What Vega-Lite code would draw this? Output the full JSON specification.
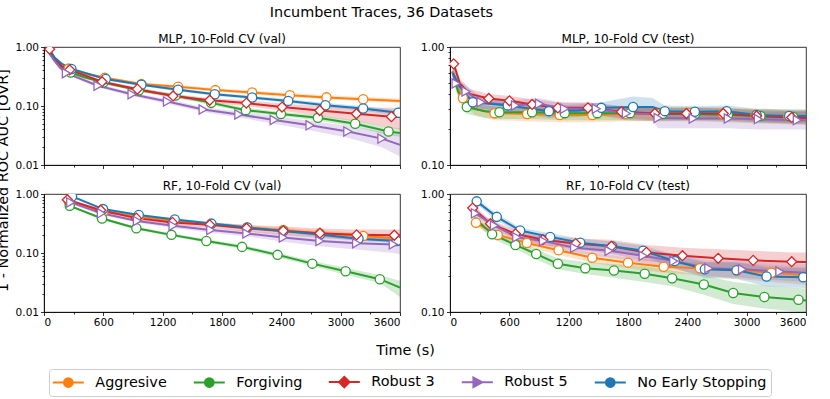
{
  "$schema": "https://vega.github.io/schema/vega-lite/v6.json",
  "background": "white",
  "padding": {"left": -5, "top": 5, "right": 5, "bottom": 5},
  "title": {"text": "Incumbent Traces, 36 Datasets", "fontSize": 14.4, "fontWeight": "normal", "anchor": "middle", "dx": -19.5, "offset": 12, "frame": "bounds"},
  "config": {
    "font": "DejaVu Sans",
    "view": {"stroke": "black", "strokeWidth": 0.8},
    "title": {"fontSize": 12, "fontWeight": "normal", "offset": -4, "color": "black"},
    "axis": {"labelFontSize": 10.5, "labelColor": "black", "domainColor": "black", "tickColor": "black", "titleColor": "black", "titleFontWeight": "normal", "grid": false, "labelPadding": 2, "domainWidth": 0.8, "tickWidth": 0.8}
  },
  "datasets": {
    "d": [
      {"p":"MV","s":"Aggresive","t":40,"y":0.88,"lo":0.84,"hi":0.92,"m":0},
      {"p":"MV","s":"Aggresive","t":100,"y":0.66,"lo":0.62,"hi":0.70,"m":0},
      {"p":"MV","s":"Aggresive","t":180,"y":0.50,"lo":0.47,"hi":0.53,"m":0},
      {"p":"MV","s":"Aggresive","t":250,"y":0.43,"lo":0.41,"hi":0.45,"m":1},
      {"p":"MV","s":"Aggresive","t":400,"y":0.36,"lo":0.34,"hi":0.38,"m":0},
      {"p":"MV","s":"Aggresive","t":614,"y":0.30,"lo":0.285,"hi":0.315,"m":1},
      {"p":"MV","s":"Aggresive","t":985,"y":0.235,"lo":0.22,"hi":0.25,"m":1},
      {"p":"MV","s":"Aggresive","t":1356,"y":0.212,"lo":0.198,"hi":0.226,"m":1},
      {"p":"MV","s":"Aggresive","t":1733,"y":0.186,"lo":0.174,"hi":0.2,"m":1},
      {"p":"MV","s":"Aggresive","t":2105,"y":0.169,"lo":0.157,"hi":0.182,"m":1},
      {"p":"MV","s":"Aggresive","t":2486,"y":0.152,"lo":0.141,"hi":0.164,"m":1},
      {"p":"MV","s":"Aggresive","t":2857,"y":0.14,"lo":0.13,"hi":0.152,"m":1},
      {"p":"MV","s":"Aggresive","t":3228,"y":0.13,"lo":0.12,"hi":0.142,"m":1},
      {"p":"MV","s":"Aggresive","t":3600,"y":0.122,"lo":0.112,"hi":0.134,"m":0},
      {"p":"MV","s":"Forgiving","t":40,"y":0.85,"lo":0.81,"hi":0.89,"m":0},
      {"p":"MV","s":"Forgiving","t":100,"y":0.62,"lo":0.58,"hi":0.66,"m":0},
      {"p":"MV","s":"Forgiving","t":180,"y":0.45,"lo":0.42,"hi":0.48,"m":0},
      {"p":"MV","s":"Forgiving","t":270,"y":0.37,"lo":0.35,"hi":0.39,"m":1},
      {"p":"MV","s":"Forgiving","t":400,"y":0.31,"lo":0.29,"hi":0.33,"m":0},
      {"p":"MV","s":"Forgiving","t":600,"y":0.25,"lo":0.235,"hi":0.265,"m":1},
      {"p":"MV","s":"Forgiving","t":960,"y":0.185,"lo":0.172,"hi":0.198,"m":1},
      {"p":"MV","s":"Forgiving","t":1330,"y":0.15,"lo":0.139,"hi":0.161,"m":1},
      {"p":"MV","s":"Forgiving","t":1690,"y":0.113,"lo":0.104,"hi":0.122,"m":1},
      {"p":"MV","s":"Forgiving","t":2041,"y":0.085,"lo":0.078,"hi":0.093,"m":1},
      {"p":"MV","s":"Forgiving","t":2396,"y":0.073,"lo":0.067,"hi":0.08,"m":1},
      {"p":"MV","s":"Forgiving","t":2770,"y":0.063,"lo":0.057,"hi":0.07,"m":1},
      {"p":"MV","s":"Forgiving","t":3147,"y":0.05,"lo":0.044,"hi":0.057,"m":1},
      {"p":"MV","s":"Forgiving","t":3484,"y":0.037,"lo":0.032,"hi":0.044,"m":1},
      {"p":"MV","s":"Forgiving","t":3600,"y":0.035,"lo":0.03,"hi":0.042,"m":0},
      {"p":"MV","s":"Robust 3","t":57,"y":0.92,"lo":0.88,"hi":0.96,"m":1},
      {"p":"MV","s":"Robust 3","t":120,"y":0.60,"lo":0.57,"hi":0.63,"m":0},
      {"p":"MV","s":"Robust 3","t":180,"y":0.47,"lo":0.445,"hi":0.495,"m":0},
      {"p":"MV","s":"Robust 3","t":260,"y":0.41,"lo":0.39,"hi":0.43,"m":1},
      {"p":"MV","s":"Robust 3","t":587,"y":0.258,"lo":0.243,"hi":0.274,"m":1},
      {"p":"MV","s":"Robust 3","t":944,"y":0.193,"lo":0.18,"hi":0.207,"m":1},
      {"p":"MV","s":"Robust 3","t":1305,"y":0.148,"lo":0.137,"hi":0.16,"m":1},
      {"p":"MV","s":"Robust 3","t":1676,"y":0.125,"lo":0.114,"hi":0.137,"m":1},
      {"p":"MV","s":"Robust 3","t":2046,"y":0.112,"lo":0.1,"hi":0.125,"m":1},
      {"p":"MV","s":"Robust 3","t":2407,"y":0.096,"lo":0.083,"hi":0.11,"m":1},
      {"p":"MV","s":"Robust 3","t":2788,"y":0.084,"lo":0.068,"hi":0.1,"m":1},
      {"p":"MV","s":"Robust 3","t":3159,"y":0.074,"lo":0.055,"hi":0.095,"m":1},
      {"p":"MV","s":"Robust 3","t":3513,"y":0.066,"lo":0.043,"hi":0.093,"m":1},
      {"p":"MV","s":"Robust 3","t":3600,"y":0.066,"lo":0.04,"hi":0.094,"m":0},
      {"p":"MV","s":"Robust 5","t":40,"y":0.85,"lo":0.81,"hi":0.89,"m":0},
      {"p":"MV","s":"Robust 5","t":100,"y":0.60,"lo":0.57,"hi":0.63,"m":0},
      {"p":"MV","s":"Robust 5","t":160,"y":0.45,"lo":0.43,"hi":0.47,"m":0},
      {"p":"MV","s":"Robust 5","t":226,"y":0.36,"lo":0.34,"hi":0.38,"m":1},
      {"p":"MV","s":"Robust 5","t":546,"y":0.22,"lo":0.205,"hi":0.235,"m":1},
      {"p":"MV","s":"Robust 5","t":890,"y":0.158,"lo":0.146,"hi":0.17,"m":1},
      {"p":"MV","s":"Robust 5","t":1248,"y":0.119,"lo":0.109,"hi":0.13,"m":1},
      {"p":"MV","s":"Robust 5","t":1609,"y":0.087,"lo":0.079,"hi":0.096,"m":1},
      {"p":"MV","s":"Robust 5","t":1970,"y":0.072,"lo":0.064,"hi":0.081,"m":1},
      {"p":"MV","s":"Robust 5","t":2327,"y":0.058,"lo":0.05,"hi":0.067,"m":1},
      {"p":"MV","s":"Robust 5","t":2690,"y":0.047,"lo":0.039,"hi":0.056,"m":1},
      {"p":"MV","s":"Robust 5","t":3072,"y":0.037,"lo":0.029,"hi":0.046,"m":1},
      {"p":"MV","s":"Robust 5","t":3417,"y":0.028,"lo":0.02,"hi":0.037,"m":1},
      {"p":"MV","s":"Robust 5","t":3600,"y":0.022,"lo":0.014,"hi":0.033,"m":0},
      {"p":"MV","s":"No Early Stopping","t":40,"y":0.90,"lo":0.86,"hi":0.94,"m":0},
      {"p":"MV","s":"No Early Stopping","t":100,"y":0.68,"lo":0.64,"hi":0.72,"m":0},
      {"p":"MV","s":"No Early Stopping","t":180,"y":0.52,"lo":0.49,"hi":0.55,"m":0},
      {"p":"MV","s":"No Early Stopping","t":277,"y":0.425,"lo":0.405,"hi":0.445,"m":1},
      {"p":"MV","s":"No Early Stopping","t":624,"y":0.286,"lo":0.272,"hi":0.3,"m":1},
      {"p":"MV","s":"No Early Stopping","t":985,"y":0.229,"lo":0.217,"hi":0.241,"m":1},
      {"p":"MV","s":"No Early Stopping","t":1356,"y":0.188,"lo":0.177,"hi":0.199,"m":1},
      {"p":"MV","s":"No Early Stopping","t":1727,"y":0.158,"lo":0.148,"hi":0.168,"m":1},
      {"p":"MV","s":"No Early Stopping","t":2105,"y":0.139,"lo":0.13,"hi":0.149,"m":1},
      {"p":"MV","s":"No Early Stopping","t":2470,"y":0.122,"lo":0.113,"hi":0.131,"m":1},
      {"p":"MV","s":"No Early Stopping","t":2846,"y":0.103,"lo":0.095,"hi":0.112,"m":1},
      {"p":"MV","s":"No Early Stopping","t":3227,"y":0.091,"lo":0.083,"hi":0.1,"m":1},
      {"p":"MV","s":"No Early Stopping","t":3583,"y":0.077,"lo":0.07,"hi":0.085,"m":1},
      {"p":"MV","s":"No Early Stopping","t":3600,"y":0.077,"lo":0.07,"hi":0.085,"m":0},

      {"p":"MT","s":"Aggresive","t":30,"y":0.62,"lo":0.55,"hi":0.7,"m":0},
      {"p":"MT","s":"Aggresive","t":80,"y":0.45,"lo":0.4,"hi":0.5,"m":0},
      {"p":"MT","s":"Aggresive","t":130,"y":0.37,"lo":0.33,"hi":0.41,"m":1},
      {"p":"MT","s":"Aggresive","t":250,"y":0.30,"lo":0.265,"hi":0.34,"m":0},
      {"p":"MT","s":"Aggresive","t":450,"y":0.275,"lo":0.24,"hi":0.31,"m":1},
      {"p":"MT","s":"Aggresive","t":780,"y":0.27,"lo":0.235,"hi":0.305,"m":1},
      {"p":"MT","s":"Aggresive","t":1110,"y":0.265,"lo":0.23,"hi":0.3,"m":1},
      {"p":"MT","s":"Aggresive","t":1440,"y":0.265,"lo":0.23,"hi":0.3,"m":1},
      {"p":"MT","s":"Aggresive","t":1770,"y":0.27,"lo":0.235,"hi":0.305,"m":1},
      {"p":"MT","s":"Aggresive","t":2100,"y":0.27,"lo":0.235,"hi":0.305,"m":1},
      {"p":"MT","s":"Aggresive","t":2430,"y":0.275,"lo":0.24,"hi":0.31,"m":1},
      {"p":"MT","s":"Aggresive","t":2760,"y":0.27,"lo":0.235,"hi":0.305,"m":1},
      {"p":"MT","s":"Aggresive","t":3090,"y":0.265,"lo":0.23,"hi":0.3,"m":1},
      {"p":"MT","s":"Aggresive","t":3420,"y":0.26,"lo":0.225,"hi":0.295,"m":1},
      {"p":"MT","s":"Aggresive","t":3600,"y":0.26,"lo":0.225,"hi":0.295,"m":0},
      {"p":"MT","s":"Forgiving","t":30,"y":0.6,"lo":0.53,"hi":0.67,"m":0},
      {"p":"MT","s":"Forgiving","t":80,"y":0.42,"lo":0.37,"hi":0.47,"m":0},
      {"p":"MT","s":"Forgiving","t":170,"y":0.31,"lo":0.27,"hi":0.35,"m":1},
      {"p":"MT","s":"Forgiving","t":350,"y":0.285,"lo":0.25,"hi":0.32,"m":0},
      {"p":"MT","s":"Forgiving","t":500,"y":0.28,"lo":0.245,"hi":0.315,"m":1},
      {"p":"MT","s":"Forgiving","t":830,"y":0.28,"lo":0.245,"hi":0.315,"m":1},
      {"p":"MT","s":"Forgiving","t":1160,"y":0.275,"lo":0.24,"hi":0.31,"m":1},
      {"p":"MT","s":"Forgiving","t":1490,"y":0.275,"lo":0.24,"hi":0.31,"m":1},
      {"p":"MT","s":"Forgiving","t":1820,"y":0.275,"lo":0.24,"hi":0.31,"m":1},
      {"p":"MT","s":"Forgiving","t":2150,"y":0.27,"lo":0.235,"hi":0.305,"m":1},
      {"p":"MT","s":"Forgiving","t":2480,"y":0.27,"lo":0.235,"hi":0.305,"m":1},
      {"p":"MT","s":"Forgiving","t":2810,"y":0.265,"lo":0.23,"hi":0.3,"m":1},
      {"p":"MT","s":"Forgiving","t":3140,"y":0.26,"lo":0.225,"hi":0.295,"m":1},
      {"p":"MT","s":"Forgiving","t":3470,"y":0.255,"lo":0.22,"hi":0.29,"m":1},
      {"p":"MT","s":"Forgiving","t":3600,"y":0.255,"lo":0.22,"hi":0.29,"m":0},
      {"p":"MT","s":"Robust 3","t":37,"y":0.72,"lo":0.65,"hi":0.8,"m":1},
      {"p":"MT","s":"Robust 3","t":100,"y":0.49,"lo":0.44,"hi":0.54,"m":0},
      {"p":"MT","s":"Robust 3","t":200,"y":0.4,"lo":0.36,"hi":0.44,"m":0},
      {"p":"MT","s":"Robust 3","t":392,"y":0.366,"lo":0.33,"hi":0.4,"m":1},
      {"p":"MT","s":"Robust 3","t":601,"y":0.35,"lo":0.315,"hi":0.385,"m":1},
      {"p":"MT","s":"Robust 3","t":831,"y":0.326,"lo":0.29,"hi":0.36,"m":1},
      {"p":"MT","s":"Robust 3","t":1091,"y":0.305,"lo":0.27,"hi":0.34,"m":1},
      {"p":"MT","s":"Robust 3","t":1395,"y":0.305,"lo":0.27,"hi":0.34,"m":1},
      {"p":"MT","s":"Robust 3","t":1733,"y":0.283,"lo":0.25,"hi":0.315,"m":1},
      {"p":"MT","s":"Robust 3","t":2071,"y":0.273,"lo":0.24,"hi":0.305,"m":1},
      {"p":"MT","s":"Robust 3","t":2391,"y":0.273,"lo":0.24,"hi":0.305,"m":1},
      {"p":"MT","s":"Robust 3","t":2763,"y":0.273,"lo":0.24,"hi":0.305,"m":1},
      {"p":"MT","s":"Robust 3","t":3100,"y":0.26,"lo":0.23,"hi":0.29,"m":1},
      {"p":"MT","s":"Robust 3","t":3455,"y":0.253,"lo":0.225,"hi":0.285,"m":1},
      {"p":"MT","s":"Robust 3","t":3600,"y":0.25,"lo":0.22,"hi":0.285,"m":0},
      {"p":"MT","s":"Robust 5","t":20,"y":0.62,"lo":0.55,"hi":0.7,"m":0},
      {"p":"MT","s":"Robust 5","t":61,"y":0.49,"lo":0.44,"hi":0.54,"m":1},
      {"p":"MT","s":"Robust 5","t":162,"y":0.42,"lo":0.38,"hi":0.47,"m":1},
      {"p":"MT","s":"Robust 5","t":314,"y":0.34,"lo":0.3,"hi":0.38,"m":1},
      {"p":"MT","s":"Robust 5","t":662,"y":0.32,"lo":0.285,"hi":0.355,"m":1},
      {"p":"MT","s":"Robust 5","t":905,"y":0.33,"lo":0.29,"hi":0.37,"m":1},
      {"p":"MT","s":"Robust 5","t":1158,"y":0.30,"lo":0.265,"hi":0.335,"m":1},
      {"p":"MT","s":"Robust 5","t":1479,"y":0.30,"lo":0.265,"hi":0.335,"m":1},
      {"p":"MT","s":"Robust 5","t":1783,"y":0.273,"lo":0.24,"hi":0.31,"m":1},
      {"p":"MT","s":"Robust 5","t":2050,"y":0.27,"lo":0.235,"hi":0.305,"m":0},
      {"p":"MT","s":"Robust 5","t":2104,"y":0.25,"lo":0.205,"hi":0.29,"m":1},
      {"p":"MT","s":"Robust 5","t":2459,"y":0.248,"lo":0.205,"hi":0.29,"m":1},
      {"p":"MT","s":"Robust 5","t":2814,"y":0.248,"lo":0.205,"hi":0.285,"m":1},
      {"p":"MT","s":"Robust 5","t":3118,"y":0.245,"lo":0.2,"hi":0.28,"m":1},
      {"p":"MT","s":"Robust 5","t":3512,"y":0.24,"lo":0.2,"hi":0.28,"m":1},
      {"p":"MT","s":"Robust 5","t":3600,"y":0.24,"lo":0.2,"hi":0.28,"m":0},
      {"p":"MT","s":"No Early Stopping","t":30,"y":0.6,"lo":0.53,"hi":0.67,"m":0},
      {"p":"MT","s":"No Early Stopping","t":100,"y":0.46,"lo":0.41,"hi":0.51,"m":0},
      {"p":"MT","s":"No Early Stopping","t":230,"y":0.34,"lo":0.3,"hi":0.38,"m":1},
      {"p":"MT","s":"No Early Stopping","t":584,"y":0.32,"lo":0.285,"hi":0.355,"m":1},
      {"p":"MT","s":"No Early Stopping","t":1000,"y":0.286,"lo":0.25,"hi":0.32,"m":1},
      {"p":"MT","s":"No Early Stopping","t":1300,"y":0.29,"lo":0.255,"hi":0.325,"m":0},
      {"p":"MT","s":"No Early Stopping","t":1530,"y":0.305,"lo":0.27,"hi":0.34,"m":1},
      {"p":"MT","s":"No Early Stopping","t":1851,"y":0.31,"lo":0.27,"hi":0.38,"m":1},
      {"p":"MT","s":"No Early Stopping","t":2050,"y":0.31,"lo":0.27,"hi":0.37,"m":0},
      {"p":"MT","s":"No Early Stopping","t":2172,"y":0.286,"lo":0.25,"hi":0.32,"m":1},
      {"p":"MT","s":"No Early Stopping","t":2476,"y":0.283,"lo":0.25,"hi":0.315,"m":1},
      {"p":"MT","s":"No Early Stopping","t":2797,"y":0.286,"lo":0.25,"hi":0.32,"m":1},
      {"p":"MT","s":"No Early Stopping","t":3100,"y":0.265,"lo":0.235,"hi":0.3,"m":1},
      {"p":"MT","s":"No Early Stopping","t":3430,"y":0.26,"lo":0.23,"hi":0.295,"m":1},
      {"p":"MT","s":"No Early Stopping","t":3600,"y":0.26,"lo":0.23,"hi":0.295,"m":0},

      {"p":"RV","s":"Aggresive","t":250,"y":0.75,"lo":0.71,"hi":0.79,"m":1},
      {"p":"RV","s":"Aggresive","t":600,"y":0.5,"lo":0.47,"hi":0.53,"m":1},
      {"p":"RV","s":"Aggresive","t":960,"y":0.41,"lo":0.385,"hi":0.435,"m":1},
      {"p":"RV","s":"Aggresive","t":1320,"y":0.35,"lo":0.325,"hi":0.375,"m":1},
      {"p":"RV","s":"Aggresive","t":1690,"y":0.31,"lo":0.285,"hi":0.335,"m":1},
      {"p":"RV","s":"Aggresive","t":2055,"y":0.27,"lo":0.245,"hi":0.295,"m":1},
      {"p":"RV","s":"Aggresive","t":2420,"y":0.245,"lo":0.22,"hi":0.27,"m":1},
      {"p":"RV","s":"Aggresive","t":2790,"y":0.215,"lo":0.19,"hi":0.24,"m":1},
      {"p":"RV","s":"Aggresive","t":3228,"y":0.195,"lo":0.17,"hi":0.22,"m":1},
      {"p":"RV","s":"Aggresive","t":3600,"y":0.175,"lo":0.15,"hi":0.2,"m":0},
      {"p":"RV","s":"Forgiving","t":260,"y":0.63,"lo":0.6,"hi":0.66,"m":1},
      {"p":"RV","s":"Forgiving","t":587,"y":0.385,"lo":0.365,"hi":0.405,"m":1},
      {"p":"RV","s":"Forgiving","t":934,"y":0.263,"lo":0.248,"hi":0.278,"m":1},
      {"p":"RV","s":"Forgiving","t":1289,"y":0.203,"lo":0.19,"hi":0.216,"m":1},
      {"p":"RV","s":"Forgiving","t":1642,"y":0.16,"lo":0.149,"hi":0.171,"m":1},
      {"p":"RV","s":"Forgiving","t":2003,"y":0.127,"lo":0.117,"hi":0.137,"m":1},
      {"p":"RV","s":"Forgiving","t":2362,"y":0.093,"lo":0.085,"hi":0.101,"m":1},
      {"p":"RV","s":"Forgiving","t":2713,"y":0.066,"lo":0.06,"hi":0.073,"m":1},
      {"p":"RV","s":"Forgiving","t":3050,"y":0.049,"lo":0.043,"hi":0.056,"m":1},
      {"p":"RV","s":"Forgiving","t":3396,"y":0.036,"lo":0.031,"hi":0.042,"m":1},
      {"p":"RV","s":"Forgiving","t":3600,"y":0.026,"lo":0.018,"hi":0.034,"m":0},
      {"p":"RV","s":"Robust 3","t":236,"y":0.80,"lo":0.76,"hi":0.84,"m":1},
      {"p":"RV","s":"Robust 3","t":574,"y":0.53,"lo":0.5,"hi":0.56,"m":1},
      {"p":"RV","s":"Robust 3","t":934,"y":0.39,"lo":0.365,"hi":0.42,"m":1},
      {"p":"RV","s":"Robust 3","t":1299,"y":0.33,"lo":0.3,"hi":0.36,"m":1},
      {"p":"RV","s":"Robust 3","t":1676,"y":0.30,"lo":0.27,"hi":0.33,"m":1},
      {"p":"RV","s":"Robust 3","t":2048,"y":0.263,"lo":0.23,"hi":0.3,"m":1},
      {"p":"RV","s":"Robust 3","t":2419,"y":0.237,"lo":0.2,"hi":0.28,"m":1},
      {"p":"RV","s":"Robust 3","t":2790,"y":0.216,"lo":0.18,"hi":0.26,"m":1},
      {"p":"RV","s":"Robust 3","t":3161,"y":0.203,"lo":0.165,"hi":0.25,"m":1},
      {"p":"RV","s":"Robust 3","t":3542,"y":0.20,"lo":0.16,"hi":0.25,"m":1},
      {"p":"RV","s":"Robust 3","t":3600,"y":0.20,"lo":0.16,"hi":0.25,"m":0},
      {"p":"RV","s":"Robust 5","t":270,"y":0.72,"lo":0.68,"hi":0.76,"m":1},
      {"p":"RV","s":"Robust 5","t":580,"y":0.47,"lo":0.44,"hi":0.5,"m":1},
      {"p":"RV","s":"Robust 5","t":944,"y":0.35,"lo":0.325,"hi":0.375,"m":1},
      {"p":"RV","s":"Robust 5","t":1305,"y":0.29,"lo":0.265,"hi":0.315,"m":1},
      {"p":"RV","s":"Robust 5","t":1686,"y":0.245,"lo":0.22,"hi":0.27,"m":1},
      {"p":"RV","s":"Robust 5","t":2051,"y":0.214,"lo":0.19,"hi":0.24,"m":1},
      {"p":"RV","s":"Robust 5","t":2419,"y":0.183,"lo":0.155,"hi":0.215,"m":1},
      {"p":"RV","s":"Robust 5","t":2790,"y":0.16,"lo":0.13,"hi":0.195,"m":1},
      {"p":"RV","s":"Robust 5","t":3161,"y":0.146,"lo":0.115,"hi":0.18,"m":1},
      {"p":"RV","s":"Robust 5","t":3532,"y":0.14,"lo":0.1,"hi":0.175,"m":1},
      {"p":"RV","s":"Robust 5","t":3600,"y":0.135,"lo":0.095,"hi":0.17,"m":0},
      {"p":"RV","s":"No Early Stopping","t":283,"y":0.91,"lo":0.87,"hi":0.95,"m":1},
      {"p":"RV","s":"No Early Stopping","t":597,"y":0.555,"lo":0.53,"hi":0.58,"m":1},
      {"p":"RV","s":"No Early Stopping","t":958,"y":0.44,"lo":0.42,"hi":0.46,"m":1},
      {"p":"RV","s":"No Early Stopping","t":1322,"y":0.37,"lo":0.35,"hi":0.39,"m":1},
      {"p":"RV","s":"No Early Stopping","t":1693,"y":0.315,"lo":0.297,"hi":0.333,"m":1},
      {"p":"RV","s":"No Early Stopping","t":2055,"y":0.27,"lo":0.254,"hi":0.287,"m":1},
      {"p":"RV","s":"No Early Stopping","t":2420,"y":0.235,"lo":0.22,"hi":0.25,"m":1},
      {"p":"RV","s":"No Early Stopping","t":2790,"y":0.205,"lo":0.19,"hi":0.22,"m":1},
      {"p":"RV","s":"No Early Stopping","t":3180,"y":0.175,"lo":0.162,"hi":0.19,"m":1},
      {"p":"RV","s":"No Early Stopping","t":3566,"y":0.16,"lo":0.148,"hi":0.173,"m":1},
      {"p":"RV","s":"No Early Stopping","t":3600,"y":0.155,"lo":0.143,"hi":0.168,"m":0},

      {"p":"RT","s":"Aggresive","t":263,"y":0.57,"lo":0.53,"hi":0.61,"m":1},
      {"p":"RT","s":"Aggresive","t":483,"y":0.45,"lo":0.42,"hi":0.48,"m":1},
      {"p":"RT","s":"Aggresive","t":777,"y":0.385,"lo":0.355,"hi":0.415,"m":1},
      {"p":"RT","s":"Aggresive","t":1098,"y":0.334,"lo":0.305,"hi":0.365,"m":1},
      {"p":"RT","s":"Aggresive","t":1439,"y":0.288,"lo":0.26,"hi":0.32,"m":1},
      {"p":"RT","s":"Aggresive","t":1800,"y":0.262,"lo":0.235,"hi":0.29,"m":1},
      {"p":"RT","s":"Aggresive","t":2161,"y":0.242,"lo":0.215,"hi":0.27,"m":1},
      {"p":"RT","s":"Aggresive","t":2526,"y":0.235,"lo":0.205,"hi":0.265,"m":1},
      {"p":"RT","s":"Aggresive","t":2900,"y":0.225,"lo":0.19,"hi":0.26,"m":1},
      {"p":"RT","s":"Aggresive","t":3250,"y":0.215,"lo":0.18,"hi":0.25,"m":1},
      {"p":"RT","s":"Aggresive","t":3600,"y":0.205,"lo":0.17,"hi":0.24,"m":0},
      {"p":"RT","s":"Forgiving","t":247,"y":0.63,"lo":0.58,"hi":0.68,"m":0},
      {"p":"RT","s":"Forgiving","t":426,"y":0.456,"lo":0.42,"hi":0.49,"m":1},
      {"p":"RT","s":"Forgiving","t":662,"y":0.37,"lo":0.34,"hi":0.4,"m":1},
      {"p":"RT","s":"Forgiving","t":872,"y":0.31,"lo":0.28,"hi":0.34,"m":1},
      {"p":"RT","s":"Forgiving","t":1091,"y":0.256,"lo":0.23,"hi":0.285,"m":1},
      {"p":"RT","s":"Forgiving","t":1368,"y":0.235,"lo":0.21,"hi":0.265,"m":1},
      {"p":"RT","s":"Forgiving","t":1658,"y":0.225,"lo":0.195,"hi":0.255,"m":1},
      {"p":"RT","s":"Forgiving","t":1969,"y":0.211,"lo":0.18,"hi":0.245,"m":1},
      {"p":"RT","s":"Forgiving","t":2246,"y":0.193,"lo":0.165,"hi":0.225,"m":1},
      {"p":"RT","s":"Forgiving","t":2567,"y":0.171,"lo":0.14,"hi":0.205,"m":1},
      {"p":"RT","s":"Forgiving","t":2864,"y":0.145,"lo":0.117,"hi":0.18,"m":1},
      {"p":"RT","s":"Forgiving","t":3179,"y":0.134,"lo":0.107,"hi":0.168,"m":1},
      {"p":"RT","s":"Forgiving","t":3524,"y":0.127,"lo":0.1,"hi":0.16,"m":1},
      {"p":"RT","s":"Forgiving","t":3600,"y":0.125,"lo":0.1,"hi":0.158,"m":0},
      {"p":"RT","s":"Robust 3","t":230,"y":0.76,"lo":0.7,"hi":0.82,"m":1},
      {"p":"RT","s":"Robust 3","t":409,"y":0.56,"lo":0.52,"hi":0.6,"m":1},
      {"p":"RT","s":"Robust 3","t":662,"y":0.46,"lo":0.42,"hi":0.5,"m":1},
      {"p":"RT","s":"Robust 3","t":939,"y":0.41,"lo":0.37,"hi":0.45,"m":1},
      {"p":"RT","s":"Robust 3","t":1270,"y":0.38,"lo":0.34,"hi":0.42,"m":1},
      {"p":"RT","s":"Robust 3","t":1632,"y":0.36,"lo":0.31,"hi":0.41,"m":1},
      {"p":"RT","s":"Robust 3","t":1986,"y":0.32,"lo":0.27,"hi":0.37,"m":1},
      {"p":"RT","s":"Robust 3","t":2351,"y":0.30,"lo":0.25,"hi":0.35,"m":1},
      {"p":"RT","s":"Robust 3","t":2712,"y":0.285,"lo":0.235,"hi":0.34,"m":1},
      {"p":"RT","s":"Robust 3","t":3066,"y":0.274,"lo":0.22,"hi":0.33,"m":1},
      {"p":"RT","s":"Robust 3","t":3455,"y":0.267,"lo":0.21,"hi":0.32,"m":1},
      {"p":"RT","s":"Robust 3","t":3600,"y":0.265,"lo":0.205,"hi":0.32,"m":0},
      {"p":"RT","s":"Robust 5","t":257,"y":0.685,"lo":0.64,"hi":0.73,"m":1},
      {"p":"RT","s":"Robust 5","t":449,"y":0.54,"lo":0.5,"hi":0.58,"m":1},
      {"p":"RT","s":"Robust 5","t":675,"y":0.43,"lo":0.4,"hi":0.46,"m":1},
      {"p":"RT","s":"Robust 5","t":945,"y":0.40,"lo":0.37,"hi":0.43,"m":1},
      {"p":"RT","s":"Robust 5","t":1260,"y":0.35,"lo":0.315,"hi":0.385,"m":1},
      {"p":"RT","s":"Robust 5","t":1608,"y":0.33,"lo":0.29,"hi":0.37,"m":1},
      {"p":"RT","s":"Robust 5","t":1953,"y":0.30,"lo":0.26,"hi":0.34,"m":1},
      {"p":"RT","s":"Robust 5","t":2263,"y":0.27,"lo":0.23,"hi":0.31,"m":1},
      {"p":"RT","s":"Robust 5","t":2617,"y":0.235,"lo":0.2,"hi":0.275,"m":1},
      {"p":"RT","s":"Robust 5","t":2958,"y":0.23,"lo":0.195,"hi":0.27,"m":1},
      {"p":"RT","s":"Robust 5","t":3336,"y":0.22,"lo":0.185,"hi":0.26,"m":1},
      {"p":"RT","s":"Robust 5","t":3600,"y":0.215,"lo":0.18,"hi":0.255,"m":0},
      {"p":"RT","s":"No Early Stopping","t":270,"y":0.866,"lo":0.82,"hi":0.91,"m":1},
      {"p":"RT","s":"No Early Stopping","t":473,"y":0.64,"lo":0.6,"hi":0.68,"m":1},
      {"p":"RT","s":"No Early Stopping","t":709,"y":0.49,"lo":0.46,"hi":0.52,"m":1},
      {"p":"RT","s":"No Early Stopping","t":1013,"y":0.433,"lo":0.4,"hi":0.465,"m":1},
      {"p":"RT","s":"No Early Stopping","t":1317,"y":0.387,"lo":0.355,"hi":0.42,"m":1},
      {"p":"RT","s":"No Early Stopping","t":1640,"y":0.36,"lo":0.325,"hi":0.395,"m":1},
      {"p":"RT","s":"No Early Stopping","t":1953,"y":0.33,"lo":0.295,"hi":0.365,"m":1},
      {"p":"RT","s":"No Early Stopping","t":2273,"y":0.27,"lo":0.235,"hi":0.305,"m":1},
      {"p":"RT","s":"No Early Stopping","t":2577,"y":0.23,"lo":0.195,"hi":0.265,"m":1},
      {"p":"RT","s":"No Early Stopping","t":2898,"y":0.226,"lo":0.19,"hi":0.265,"m":1},
      {"p":"RT","s":"No Early Stopping","t":3201,"y":0.20,"lo":0.165,"hi":0.24,"m":1},
      {"p":"RT","s":"No Early Stopping","t":3572,"y":0.197,"lo":0.16,"hi":0.235,"m":1},
      {"p":"RT","s":"No Early Stopping","t":3600,"y":0.197,"lo":0.16,"hi":0.235,"m":0}
    ]
  },
  "bounds": "flush",
  "columns": 2,
  "spacing": {"row": 29, "column": 50},
  "concat": [
    {
      "title": "MLP, 10-Fold CV (val)",
      "width": 356, "height": 118,
      "data": {"name": "d"},
      "transform": [{"filter": "datum.p === 'MV'"}],
      "encoding": {
        "x": {"field": "t", "type": "quantitative", "scale": {"domain": [0, 3600], "nice": false}, "axis": {"values": [0,300,600,900,1200,1500,1800,2100,2400,2700,3000,3300,3600], "labels": false, "tickSize": {"condition": {"test": "datum.value % 600 === 0", "value": 3.5}, "value": 2}, "title": null}},
        "y": {"field": "y", "type": "quantitative", "scale": {"type": "log", "domain": [0.01, 1], "nice": false}, "axis": {"values": [0.01,0.02,0.03,0.04,0.05,0.06,0.07,0.08,0.09,0.1,0.2,0.3,0.4,0.5,0.6,0.7,0.8,0.9,1], "labelExpr": "datum.value == 1 || datum.value == 0.1 || datum.value == 0.01 ? format(datum.value, '.2f') : ''", "tickSize": {"condition": {"test": "datum.value == 1 || datum.value == 0.1 || datum.value == 0.01", "value": 3.5}, "value": 2}, "labelOverlap": false, "title": "1 - Normalized ROC AUC [OVR]", "titleX": -36.5, "titleY": 133, "titleAngle": -90, "titleAlign": "center", "titleBaseline": "alphabetic", "titleFontSize": 14.4}},
        "color": {"field": "s", "type": "nominal", "scale": {"domain": ["Aggresive", "Forgiving", "Robust 3", "Robust 5", "No Early Stopping"], "range": ["#ff7f0e", "#2ca02c", "#d62728", "#9467bd", "#1f77b4"]}}
      },
      "layer": [
        {"transform": [{"filter": "datum.m === 1"}],
         "mark": {"type": "point", "filled": false, "opacity": 0, "clip": true},
         "encoding": {
           "color": {"field": "s", "type": "nominal", "scale": {"domain": ["Aggresive", "Forgiving", "Robust 3", "Robust 5", "No Early Stopping"], "range": ["#ff7f0e", "#2ca02c", "#d62728", "#9467bd", "#1f77b4"]},
             "legend": {"orient": "none", "legendX": 5, "legendY": 322, "direction": "horizontal", "title": null, "labelFontSize": 14.4, "labelColor": "black", "labelFont": "DejaVu Sans", "symbolSize": 199, "symbolOffset": 6.3, "symbolOpacity": 1, "symbolStrokeWidth": 2, "symbolFillColor": "white", "labelOffset": 18.5, "columnPadding": 22, "padding": 4.5, "strokeColor": "#cccccc", "fillColor": "white", "cornerRadius": 3}},
           "shape": {"field": "s", "type": "nominal", "scale": {"domain": ["Aggresive", "Forgiving", "Robust 3", "Robust 5", "No Early Stopping"], "range": ["M-2.2,0L-0.62,0M0.62,0L2.2,0M-0.62,0A0.62,0.62,0,1,1,0.62,0A0.62,0.62,0,1,1,-0.62,0", "M-2.2,0L-0.62,0M0.62,0L2.2,0M-0.62,0A0.62,0.62,0,1,1,0.62,0A0.62,0.62,0,1,1,-0.62,0", "M-2.2,0L-0.75,0M0.75,0L2.2,0M-0.75,0L0,-0.75L0.75,0L0,0.75Z", "M-2.2,0L-0.55,0M0.7,0L2.2,0M-0.55,-0.68L0.7,0L-0.55,0.68Z", "M-2.2,0L-0.62,0M0.62,0L2.2,0M-0.62,0A0.62,0.62,0,1,1,0.62,0A0.62,0.62,0,1,1,-0.62,0"]},
             "legend": {"orient": "none", "legendX": 5, "legendY": 322, "direction": "horizontal", "title": null, "labelFontSize": 14.4, "labelColor": "black", "labelFont": "DejaVu Sans", "symbolSize": 199, "symbolOffset": 6.3, "symbolOpacity": 1, "symbolStrokeWidth": 2, "symbolFillColor": "white", "labelOffset": 18.5, "columnPadding": 22, "padding": 4.5, "strokeColor": "#cccccc", "fillColor": "white", "cornerRadius": 3}}}},
        {"mark": {"type": "area", "opacity": 0.22, "clip": true},
         "encoding": {"y": {"field": "lo", "type": "quantitative", "scale": {"type": "log", "domain": [0.01, 1], "nice": false}, "axis": {"values": [0.01,0.02,0.03,0.04,0.05,0.06,0.07,0.08,0.09,0.1,0.2,0.3,0.4,0.5,0.6,0.7,0.8,0.9,1], "labelExpr": "datum.value == 1 || datum.value == 0.1 || datum.value == 0.01 ? format(datum.value, '.2f') : ''", "tickSize": {"condition": {"test": "datum.value == 1 || datum.value == 0.1 || datum.value == 0.01", "value": 3.5}, "value": 2}, "labelOverlap": false, "title": "1 - Normalized ROC AUC [OVR]", "titleX": -36.5, "titleY": 133, "titleAngle": -90, "titleAlign": "center", "titleBaseline": "alphabetic", "titleFontSize": 14.4}}, "y2": {"field": "hi"}}},
        {"mark": {"type": "line", "strokeWidth": 2, "clip": true}, "encoding": {}},
        {"transform": [{"filter": "datum.m === 1 && datum.s !== 'Robust 3' && datum.s !== 'Robust 5'"}],
         "mark": {"type": "point", "shape": "circle", "filled": false, "fill": "white", "strokeWidth": 1.3, "size": 85, "opacity": 1, "clip": true}, "encoding": {}},
        {"transform": [{"filter": "datum.m === 1 && datum.s === 'Robust 3'"}],
         "mark": {"type": "point", "shape": "diamond", "filled": false, "fill": "white", "strokeWidth": 1.3, "size": 100, "opacity": 1, "clip": true}, "encoding": {}},
        {"transform": [{"filter": "datum.m === 1 && datum.s === 'Robust 5'"}],
         "mark": {"type": "point", "shape": "triangle-right", "filled": false, "fill": "white", "strokeWidth": 1.3, "size": 85, "opacity": 1, "clip": true}, "encoding": {}}
      ]
    },
    {
      "title": "MLP, 10-Fold CV (test)",
      "width": 356, "height": 118,
      "data": {"name": "d"},
      "transform": [{"filter": "datum.p === 'MT'"}],
      "encoding": {
        "x": {"field": "t", "type": "quantitative", "scale": {"domain": [0, 3600], "nice": false}, "axis": {"values": [0,300,600,900,1200,1500,1800,2100,2400,2700,3000,3300,3600], "labels": false, "tickSize": {"condition": {"test": "datum.value % 600 === 0", "value": 3.5}, "value": 2}, "title": null}},
        "y": {"field": "y", "type": "quantitative", "scale": {"type": "log", "domain": [0.1, 1], "nice": false}, "axis": {"values": [0.1,0.2,0.3,0.4,0.5,0.6,0.7,0.8,0.9,1], "labelExpr": "datum.value == 1 || datum.value == 0.1 ? format(datum.value, '.2f') : ''", "tickSize": {"condition": {"test": "datum.value == 1 || datum.value == 0.1", "value": 3.5}, "value": 2}, "labelOverlap": false, "labelPadding": 2.5, "title": null}},
        "color": {"field": "s", "type": "nominal", "scale": {"domain": ["Aggresive", "Forgiving", "Robust 3", "Robust 5", "No Early Stopping"], "range": ["#ff7f0e", "#2ca02c", "#d62728", "#9467bd", "#1f77b4"]}}
      },
      "layer": [
        {"mark": {"type": "area", "opacity": 0.22, "clip": true},
         "encoding": {"y": {"field": "lo", "type": "quantitative", "scale": {"type": "log", "domain": [0.1, 1], "nice": false}, "axis": {"values": [0.1,0.2,0.3,0.4,0.5,0.6,0.7,0.8,0.9,1], "labelExpr": "datum.value == 1 || datum.value == 0.1 ? format(datum.value, '.2f') : ''", "tickSize": {"condition": {"test": "datum.value == 1 || datum.value == 0.1", "value": 3.5}, "value": 2}, "labelOverlap": false, "labelPadding": 2.5, "title": null}}, "y2": {"field": "hi"}}},
        {"mark": {"type": "line", "strokeWidth": 2, "clip": true}, "encoding": {}},
        {"transform": [{"filter": "datum.m === 1 && datum.s !== 'Robust 3' && datum.s !== 'Robust 5'"}],
         "mark": {"type": "point", "shape": "circle", "filled": false, "fill": "white", "strokeWidth": 1.3, "size": 85, "opacity": 1, "clip": true}, "encoding": {}},
        {"transform": [{"filter": "datum.m === 1 && datum.s === 'Robust 3'"}],
         "mark": {"type": "point", "shape": "diamond", "filled": false, "fill": "white", "strokeWidth": 1.3, "size": 100, "opacity": 1, "clip": true}, "encoding": {}},
        {"transform": [{"filter": "datum.m === 1 && datum.s === 'Robust 5'"}],
         "mark": {"type": "point", "shape": "triangle-right", "filled": false, "fill": "white", "strokeWidth": 1.3, "size": 85, "opacity": 1, "clip": true}, "encoding": {}}
      ]
    },
    {
      "title": "RF, 10-Fold CV (val)",
      "width": 356, "height": 118,
      "data": {"name": "d"},
      "transform": [{"filter": "datum.p === 'RV'"}],
      "encoding": {
        "x": {"field": "t", "type": "quantitative", "scale": {"domain": [0, 3600], "nice": false}, "axis": {"values": [0,300,600,900,1200,1500,1800,2100,2400,2700,3000,3300,3600], "format": "d", "labelExpr": "datum.value % 600 === 0 ? datum.label : ''", "labelOverlap": false, "tickSize": {"condition": {"test": "datum.value % 600 === 0", "value": 3.5}, "value": 2}, "title": "Time (s)", "titleX": 361, "titleY": 42.7, "titleAlign": "center", "titleBaseline": "alphabetic", "titleFontSize": 14.4}},
        "y": {"field": "y", "type": "quantitative", "scale": {"type": "log", "domain": [0.01, 1], "nice": false}, "axis": {"values": [0.01,0.02,0.03,0.04,0.05,0.06,0.07,0.08,0.09,0.1,0.2,0.3,0.4,0.5,0.6,0.7,0.8,0.9,1], "labelExpr": "datum.value == 1 || datum.value == 0.1 || datum.value == 0.01 ? format(datum.value, '.2f') : ''", "tickSize": {"condition": {"test": "datum.value == 1 || datum.value == 0.1 || datum.value == 0.01", "value": 3.5}, "value": 2}, "labelOverlap": false, "title": null}},
        "color": {"field": "s", "type": "nominal", "scale": {"domain": ["Aggresive", "Forgiving", "Robust 3", "Robust 5", "No Early Stopping"], "range": ["#ff7f0e", "#2ca02c", "#d62728", "#9467bd", "#1f77b4"]}}
      },
      "layer": [
        {"mark": {"type": "area", "opacity": 0.22, "clip": true},
         "encoding": {"y": {"field": "lo", "type": "quantitative", "scale": {"type": "log", "domain": [0.01, 1], "nice": false}, "axis": {"values": [0.01,0.02,0.03,0.04,0.05,0.06,0.07,0.08,0.09,0.1,0.2,0.3,0.4,0.5,0.6,0.7,0.8,0.9,1], "labelExpr": "datum.value == 1 || datum.value == 0.1 || datum.value == 0.01 ? format(datum.value, '.2f') : ''", "tickSize": {"condition": {"test": "datum.value == 1 || datum.value == 0.1 || datum.value == 0.01", "value": 3.5}, "value": 2}, "labelOverlap": false, "title": null}}, "y2": {"field": "hi"}}},
        {"mark": {"type": "line", "strokeWidth": 2, "clip": true}, "encoding": {}},
        {"transform": [{"filter": "datum.m === 1 && datum.s !== 'Robust 3' && datum.s !== 'Robust 5'"}],
         "mark": {"type": "point", "shape": "circle", "filled": false, "fill": "white", "strokeWidth": 1.3, "size": 85, "opacity": 1, "clip": true}, "encoding": {}},
        {"transform": [{"filter": "datum.m === 1 && datum.s === 'Robust 3'"}],
         "mark": {"type": "point", "shape": "diamond", "filled": false, "fill": "white", "strokeWidth": 1.3, "size": 100, "opacity": 1, "clip": true}, "encoding": {}},
        {"transform": [{"filter": "datum.m === 1 && datum.s === 'Robust 5'"}],
         "mark": {"type": "point", "shape": "triangle-right", "filled": false, "fill": "white", "strokeWidth": 1.3, "size": 85, "opacity": 1, "clip": true}, "encoding": {}}
      ]
    },
    {
      "title": "RF, 10-Fold CV (test)",
      "width": 356, "height": 118,
      "data": {"name": "d"},
      "transform": [{"filter": "datum.p === 'RT'"}],
      "encoding": {
        "x": {"field": "t", "type": "quantitative", "scale": {"domain": [0, 3600], "nice": false}, "axis": {"values": [0,300,600,900,1200,1500,1800,2100,2400,2700,3000,3300,3600], "format": "d", "labelExpr": "datum.value % 600 === 0 ? datum.label : ''", "labelOverlap": false, "tickSize": {"condition": {"test": "datum.value % 600 === 0", "value": 3.5}, "value": 2}, "title": null}},
        "y": {"field": "y", "type": "quantitative", "scale": {"type": "log", "domain": [0.1, 1], "nice": false}, "axis": {"values": [0.1,0.2,0.3,0.4,0.5,0.6,0.7,0.8,0.9,1], "labelExpr": "datum.value == 1 || datum.value == 0.1 ? format(datum.value, '.2f') : ''", "tickSize": {"condition": {"test": "datum.value == 1 || datum.value == 0.1", "value": 3.5}, "value": 2}, "labelOverlap": false, "labelPadding": 2.5, "title": null}},
        "color": {"field": "s", "type": "nominal", "scale": {"domain": ["Aggresive", "Forgiving", "Robust 3", "Robust 5", "No Early Stopping"], "range": ["#ff7f0e", "#2ca02c", "#d62728", "#9467bd", "#1f77b4"]}}
      },
      "layer": [
        {"mark": {"type": "area", "opacity": 0.22, "clip": true},
         "encoding": {"y": {"field": "lo", "type": "quantitative", "scale": {"type": "log", "domain": [0.1, 1], "nice": false}, "axis": {"values": [0.1,0.2,0.3,0.4,0.5,0.6,0.7,0.8,0.9,1], "labelExpr": "datum.value == 1 || datum.value == 0.1 ? format(datum.value, '.2f') : ''", "tickSize": {"condition": {"test": "datum.value == 1 || datum.value == 0.1", "value": 3.5}, "value": 2}, "labelOverlap": false, "labelPadding": 2.5, "title": null}}, "y2": {"field": "hi"}}},
        {"mark": {"type": "line", "strokeWidth": 2, "clip": true}, "encoding": {}},
        {"transform": [{"filter": "datum.m === 1 && datum.s !== 'Robust 3' && datum.s !== 'Robust 5'"}],
         "mark": {"type": "point", "shape": "circle", "filled": false, "fill": "white", "strokeWidth": 1.3, "size": 85, "opacity": 1, "clip": true}, "encoding": {}},
        {"transform": [{"filter": "datum.m === 1 && datum.s === 'Robust 3'"}],
         "mark": {"type": "point", "shape": "diamond", "filled": false, "fill": "white", "strokeWidth": 1.3, "size": 100, "opacity": 1, "clip": true}, "encoding": {}},
        {"transform": [{"filter": "datum.m === 1 && datum.s === 'Robust 5'"}],
         "mark": {"type": "point", "shape": "triangle-right", "filled": false, "fill": "white", "strokeWidth": 1.3, "size": 85, "opacity": 1, "clip": true}, "encoding": {}}
      ]
    }
  ]
}
